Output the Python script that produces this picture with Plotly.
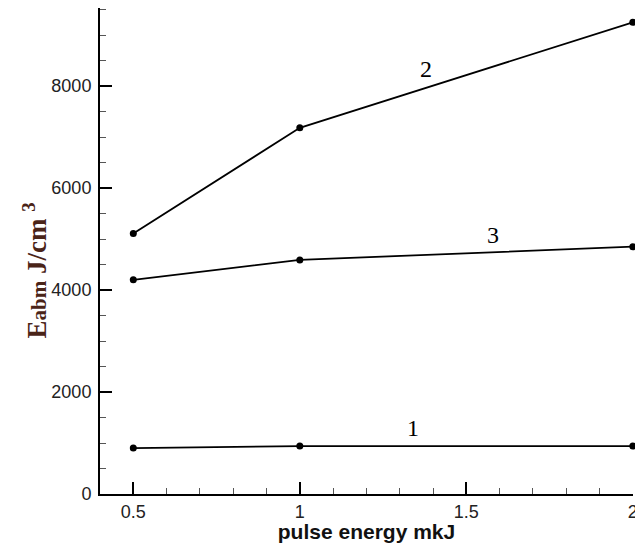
import plotly.graph_objects as go

energy = [0.5, 1.0, 2.0]
series_1 = [900, 940, 940]
series_2 = [5110, 7180, 9250]
series_3 = [4200, 4590, 4850]
curve_labels = ["1", "2", "3"]
label_pos = [(1.34, 1290), (1.38, 8330), (1.58, 5080)]

fig = go.Figure()
for ys in (series_1, series_2, series_3):
    fig.add_trace(go.Scatter(
        x=energy, y=ys, mode="lines+markers",
        line=dict(color="black", width=1.8),
        marker=dict(color="black", size=7),
        showlegend=False, cliponaxis=False, hoverinfo="skip",
    ))

for lab, (lx, ly) in zip(curve_labels, label_pos):
    fig.add_annotation(x=lx, y=ly, text=lab, showarrow=False,
                       font=dict(family="Liberation Serif, Times New Roman, serif", size=24, color="black"))

# y-axis title as annotation for precise placement
fig.add_annotation(xref="paper", yref="paper", x=-0.122, y=0.46, xanchor="center", yanchor="middle",
                   textangle=-90, showarrow=False,
                   text="<b>E<span style='font-size:21px'>abm</span> J/cm <sup>3</sup></b>",
                   font=dict(family="Liberation Serif, Times New Roman, serif", size=27, color="#4a2418"))

fig.update_layout(
    width=635, height=543,
    margin=dict(l=100, r=2, t=8, b=49, autoexpand=False),
    plot_bgcolor="white", paper_bgcolor="white",
    hovermode=False,
    xaxis=dict(
        range=[0.4, 2.0005], tickvals=[0.5, 1, 1.5, 2], ticktext=["0.5", "1", "1.5", "2"],
        ticks="inside", ticklen=12, tickwidth=2, tickcolor="black",
        minor=dict(dtick=0.1, ticks="inside", ticklen=6, tickcolor="#555", tickwidth=1, showgrid=False),
        showline=True, linecolor="black", linewidth=2, mirror=False,
        showgrid=False, zeroline=False, automargin=False,
        ticklabeloverflow="allow",
        tickfont=dict(family="Liberation Sans, Arial, sans-serif", size=18, color="#222"),
        title=dict(text="<b>pulse energy mkJ</b>", standoff=0,
                   font=dict(family="Liberation Sans, Arial, sans-serif", size=21, color="#111")),
    ),
    yaxis=dict(
        range=[0, 9530], tickvals=[0, 2000, 4000, 6000, 8000],
        ticks="inside", ticklen=12, tickwidth=2, tickcolor="black",
        minor=dict(dtick=500, ticks="inside", ticklen=6, tickcolor="#555", tickwidth=1, showgrid=False),
        showline=True, linecolor="black", linewidth=2,
        showgrid=False, zeroline=False, automargin=False,
        ticklabelstandoff=3,
        tickfont=dict(family="Liberation Sans, Arial, sans-serif", size=18, color="#222"),
    ),
)

fig.write_html(
    "out.html",
    config={"displayModeBar": False},
    post_script="document.body.style.margin='0';document.body.style.overflow='hidden';",
)
